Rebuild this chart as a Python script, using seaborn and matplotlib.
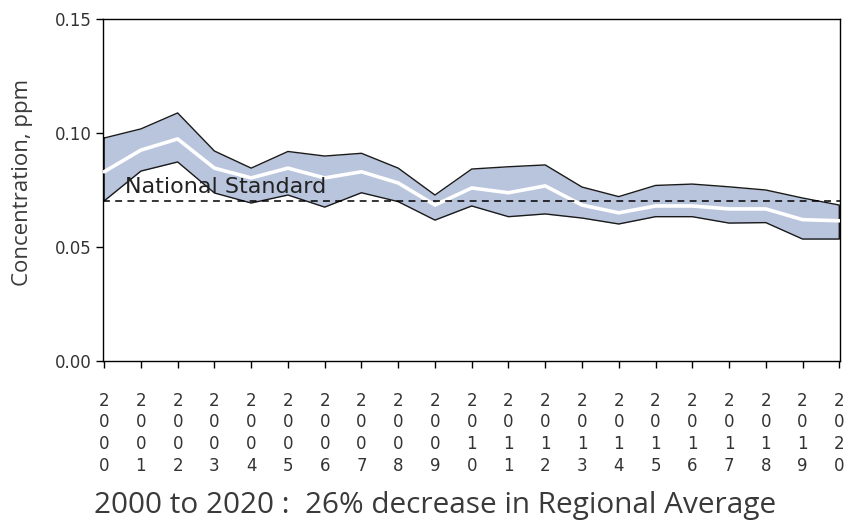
import matplotlib
matplotlib.use("Agg")
import matplotlib.pyplot as plt
import seaborn as sns
import pandas as pd

# Annual concentration summary, ppm
years = list(range(2000, 2021))
upper = [0.0978, 0.1018, 0.1088, 0.0921, 0.0846, 0.0919, 0.0899, 0.0911, 0.0846, 0.0728,
         0.0842, 0.0852, 0.0860, 0.0763, 0.0721, 0.0770, 0.0776, 0.0764, 0.0750, 0.0715, 0.0684]
average = [0.0830, 0.0925, 0.0974, 0.0846, 0.0803, 0.0846, 0.0803, 0.0830, 0.0781, 0.0684,
           0.0759, 0.0738, 0.0768, 0.0684, 0.0650, 0.0680, 0.0680, 0.0667, 0.0667, 0.0620, 0.0615]
lower = [0.0702, 0.0833, 0.0873, 0.0737, 0.0693, 0.0728, 0.0675, 0.0738, 0.0699, 0.0618,
         0.0680, 0.0633, 0.0645, 0.0627, 0.0601, 0.0633, 0.0633, 0.0605, 0.0607, 0.0535, 0.0535]
standard = 0.07
y_ticks = [0.00, 0.05, 0.10, 0.15]
caption = "2000 to 2020 :  26% decrease in Regional Average"

df = pd.DataFrame({"year": years, "upper": upper, "average": average, "lower": lower})

sns.set_theme(style="ticks")
plt.rcParams["font.family"] = ["DejaVu Sans"]

fig = plt.figure(figsize=(8.48, 5.22), dpi=100)
ax = fig.add_axes([0.1215, 0.3084, 0.8691, 0.6552])

# Range band with black outline
ax.fill_between(df["year"], df["lower"], df["upper"], color="#b9c4dd", lw=0, zorder=1)
band_x = list(df["year"]) + list(df["year"][::-1]) + [df["year"].iloc[0]]
band_y = list(df["upper"]) + list(df["lower"][::-1]) + [df["upper"].iloc[0]]
ax.plot(band_x, band_y, color="#1a1a1a", lw=1.0, zorder=2)

# Regional average
sns.lineplot(data=df, x="year", y="average", color="white", lw=2.6, ax=ax, zorder=3)

# National standard
ax.axhline(standard, color="black", lw=1.1, ls=(0, (4.5, 3.5)), zorder=4)
ax.text(2000.58, standard + 0.0037, "National Standard", fontsize=16, color="#222222",
        ha="left", va="baseline", zorder=5)

ax.set_xlim(1999.97, 2020.02)
ax.set_ylim(0, 0.15)
ax.set_yticks(y_ticks)
ax.set_yticklabels([f"{v:.2f}" for v in y_ticks], fontsize=12, color="#333333")
ax.set_xticks(years)
ax.set_xticklabels(["\n".join(str(y)) for y in years], fontsize=12, color="#333333",
                   linespacing=1.27)
ax.set_xlabel("")
ax.set_ylabel("Concentration, ppm", fontsize=16, color="#3a3a3a",
              family=["Open Sans", "DejaVu Sans"])
ax.yaxis.set_label_coords(-0.095, 0.522)

for side in ["top", "right", "left", "bottom"]:
    ax.spines[side].set_visible(True)
    ax.spines[side].set_color("black")
    ax.spines[side].set_linewidth(1.0)
ax.tick_params(axis="both", direction="out", length=5, width=1, color="black",
               top=False, right=False)
ax.tick_params(axis="y", pad=3)
ax.tick_params(axis="x", pad=17)

fig.text(0.111, 0.0172, caption, fontsize=21.4, color="#3a3a3a", ha="left", va="baseline",
         family=["Open Sans", "DejaVu Sans"])

fig.savefig("out.png", dpi=100)
